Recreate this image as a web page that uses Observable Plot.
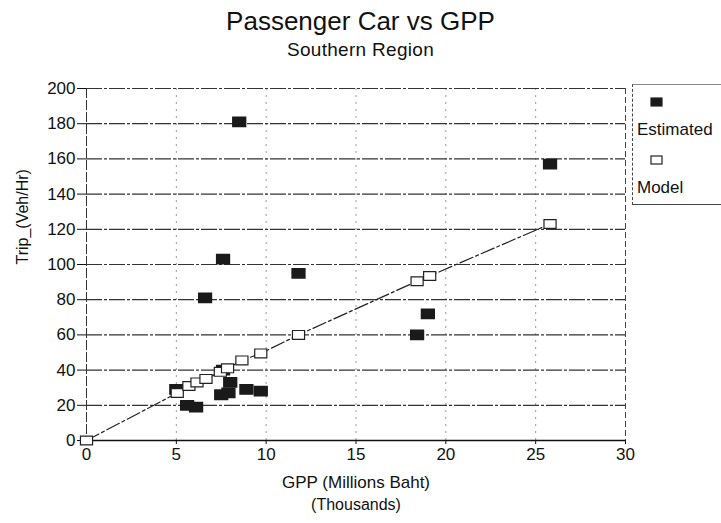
<!DOCTYPE html>
<html><head><meta charset="utf-8">
<script src="https://cdn.jsdelivr.net/npm/d3@7"></script>
<script src="https://cdn.jsdelivr.net/npm/@observablehq/plot@0.6"></script>
<style>
body{margin:0;background:#fff;font-family:"Liberation Sans",Arial,sans-serif;}
#wrap{position:relative;width:721px;height:523px;}
#title{position:absolute;left:0;width:721px;top:6px;text-align:center;}
#title .t{font-size:26px;color:#111;padding-right:0px;letter-spacing:0px;line-height:30px}
#title .s{font-size:19px;color:#111;padding-right:0px;margin-top:3px;letter-spacing:0.3px}
#legend{position:absolute;left:632px;top:84px;width:92px;height:119px;border-left:1px dashed #444;border-bottom:1px solid #444;border-top:1px solid #888;font-size:17px;color:#111;}
#chart{position:absolute;left:0;top:0;}
</style></head>
<body><div id="wrap">
<div id="chart"></div>
<div id="title"><div class="t">Passenger Car vs GPP</div><div class="s">Southern Region</div></div>
<div id="legend"></div>
</div>
<script>
// Estimated (observed) points: GPP (thousand million baht), trips (veh/hr)
const estX = [8.5, 25.8, 7.6, 6.6, 11.8, 18.4, 19.0, 5.0, 5.6, 6.1, 7.5, 7.9, 8.0, 8.9, 9.7, 7.6];
const estY = [181, 157, 103, 81, 95, 60, 72, 29, 20, 19, 26, 27, 33, 29, 28, 40];
// Model points
const modX = [0, 5.05, 5.7, 6.15, 6.65, 7.45, 7.85, 8.65, 9.7, 11.8, 18.4, 19.1, 25.8];
const modY = [0, 27, 31, 33, 35, 39, 41, 45.5, 49.5, 60, 90.5, 93.5, 123];
const xTicks = [0, 5, 10, 15, 20, 25, 30];
const yTicks = [0, 20, 40, 60, 80, 100, 120, 140, 160, 180, 200];
const seriesNames = ["Estimated", "Model"];

const est = estX.map((x, i) => ({x, y: estY[i]}));
const mod = modX.map((x, i) => ({x, y: modY[i]}));

const rectSym = {draw(ctx, size){ const r = Math.sqrt(size/Math.PI); const w = 1.1*r, h = 0.8*r; ctx.moveTo(-w,-h); ctx.lineTo(w,-h); ctx.lineTo(w,h); ctx.lineTo(-w,h); ctx.closePath(); }};

const plot = Plot.plot({
  width: 721, height: 523,
  marginLeft: 86, marginRight: 96, marginTop: 88, marginBottom: 83,
  style: {fontFamily: "Liberation Sans, Arial, sans-serif", background: "transparent", color: "#111"},
  x: {domain: [0, 30], ticks: xTicks},
  y: {domain: [0, 200], ticks: yTicks},
  marks: [
    Plot.ruleX(xTicks.slice(1, -1), {stroke: "#999", strokeDasharray: "2,5", strokeWidth: 1}),
    Plot.ruleY(yTicks.slice(1), {stroke: "#333", strokeWidth: 1.2, strokeDasharray: "16,2,3,2"}),
    Plot.ruleX([30], {stroke: "#444", strokeDasharray: "6,3"}),
    Plot.ruleX([0], {stroke: "#333", strokeDasharray: "10,2"}),
    Plot.ruleY([0], {stroke: "#111", strokeWidth: 1.3}),
    Plot.axisX({ticks: xTicks, tickSize: 4, tickPadding: 3, fontSize: 17, label: null, tickFormat: d => d}),
    Plot.axisY({ticks: yTicks, tickSize: 9, tickPadding: 2, fontSize: 17, label: null, tickFormat: d => d, anchor: "left", letterSpacing: "-0.5px"}),
    Plot.text(["GPP (Millions Baht)"], {frameAnchor: "bottom", dy: 47, fontSize: 17, fill: "#111"}),
    Plot.text(["(Thousands)"], {frameAnchor: "bottom", dy: 69, fontSize: 16, fill: "#111"}),
    Plot.text(["Trip_(Veh/Hr)"], {frameAnchor: "left", dx: -64, rotate: -90, fontSize: 16, fill: "#111"}),
    Plot.line(mod, {x: "x", y: "y", stroke: "#222", strokeWidth: 1.2, strokeDasharray: "14,3,3,3"}),
    Plot.dot(est, {x: "x", y: "y", symbol: rectSym, r: 5.8, fill: "#1a1a1a", stroke: "#1a1a1a"}),
    Plot.dot(mod, {x: "x", y: "y", symbol: rectSym, r: 5.5, fill: "white", stroke: "#222", strokeWidth: 1.2})
  ]
});
document.getElementById("chart").appendChild(plot);

// legend
const lg = d3.select("#legend");
const items = [{name: seriesNames[0], fill: "#1a1a1a", top: 12}, {name: seriesNames[1], fill: "white", top: 70}];
items.forEach(it => {
  const s = lg.append("svg").attr("width", 14).attr("height", 11)
    .style("position", "absolute").style("left", "17px").style("top", it.top + "px");
  s.append("rect").attr("x", 1).attr("y", 1).attr("width", 11).attr("height", 8)
    .attr("fill", it.fill).attr("stroke", "#222").attr("stroke-width", 1.2);
  lg.append("div").text(it.name).style("position", "absolute").style("left", "4px").style("top", (it.top + 23) + "px");
});
</script>
</body></html>
